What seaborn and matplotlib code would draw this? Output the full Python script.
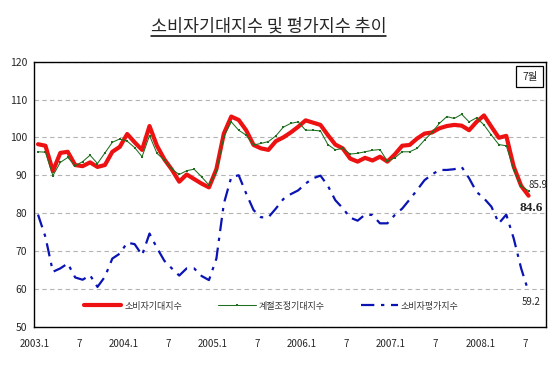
import matplotlib
matplotlib.use("Agg")
import matplotlib.pyplot as plt
import seaborn as sns
import pandas as pd
from matplotlib.lines import Line2D

# monthly categories 2003.1 ~ 2008.7
months = [f"{y}.{m}" for y in range(2003, 2009) for m in range(1, 13)][:67]

# 소비자기대지수
expect = [98.2, 97.8, 91.1, 95.9, 96.2, 92.7, 92.4, 93.4, 92.2, 92.7, 96.2, 97.5,
          100.9, 98.7, 96.7, 103.0, 97.8, 94.2, 91.5, 88.3, 90.2, 89.0, 87.8, 86.8,
          91.6, 101.0, 105.5, 104.6, 101.9, 98.0, 97.1, 96.7, 99.0, 100.0, 101.3, 102.8,
          104.5, 103.9, 103.3, 100.6, 98.1, 97.1, 94.4, 93.6, 94.6, 93.9, 94.9, 93.6,
          95.5, 97.8, 98.0, 99.7, 101.0, 101.3, 102.4, 103.0, 103.3, 103.1, 101.9, 104.1,
          105.8, 102.8, 99.9, 100.4, 92.3, 87.2, 84.6]

# 계절조정기대지수
seasonal = [96.2, 96.1, 89.9, 93.4, 94.7, 92.5, 93.6, 95.3, 93.1, 95.9, 98.7, 99.6,
            99.0, 97.3, 94.9, 100.5, 95.8, 94.0, 91.6, 90.2, 91.2, 91.6, 89.6, 87.4,
            90.9, 100.2, 104.1, 101.9, 100.6, 98.0, 98.4, 98.9, 100.4, 102.7, 103.7, 104.1,
            101.9, 101.9, 101.7, 98.1, 96.7, 97.1, 95.6, 95.8, 96.2, 96.6, 96.8, 93.7,
            94.6, 96.2, 96.2, 97.1, 99.3, 101.3, 103.7, 105.5, 105.0, 106.1, 104.1, 105.2,
            103.3, 100.6, 98.1, 97.8, 91.4, 87.1, 85.9]

# 소비자평가지수
evaluation = [79.6, 73.7, 64.5, 65.4, 66.7, 63.0, 62.4, 63.6, 60.5, 63.2, 68.0, 69.3,
              72.2, 71.8, 68.9, 74.6, 70.8, 67.4, 65.4, 63.5, 65.4, 65.4, 63.4, 62.3,
              68.0, 82.5, 89.5, 90.0, 85.2, 80.8, 78.9, 78.9, 81.2, 83.7, 85.0, 86.0,
              87.8, 89.2, 89.9, 87.2, 83.4, 81.3, 78.8, 78.0, 79.6, 79.5, 77.3, 77.3,
              79.5, 81.2, 83.6, 86.1, 88.7, 90.2, 91.4, 91.4, 91.6, 92.2, 89.2, 85.6,
              83.9, 81.7, 77.3, 79.6, 73.3, 65.4, 59.2]

tick_labels = ["2003.1", "7", "2004.1", "7", "2005.1", "7",
               "2006.1", "7", "2007.1", "7", "2008.1", "7"]

df = pd.DataFrame({"month": months, "expect": expect,
                   "seasonal": seasonal, "evaluation": evaluation})
df["idx"] = range(len(df))

sns.set_style("white")
plt.rcParams['font.family'] = ['Noto Sans CJK KR', 'DejaVu Sans']

fig = plt.figure(figsize=(5.55, 3.65), dpi=100)
ax = fig.add_axes([0.0618, 0.105, 0.9214, 0.726])

sns.lineplot(data=df, x="idx", y="expect", color="#ee1111", lw=3.0,
             label="소비자기대지수", ax=ax, zorder=3)
sns.lineplot(data=df, x="idx", y="seasonal", color="#1f6e1f", lw=0.75,
             marker="s", markersize=1.5, markeredgewidth=0,
             label="계절조정기대지수", ax=ax, zorder=4)
sns.lineplot(data=df, x="idx", y="evaluation", color="#0a14b4", lw=1.6,
             linestyle=(0, (6, 3, 1.5, 3)), label="소비자평가지수", ax=ax, zorder=3)

ax.set_xlim(-0.45, 68.3)
ax.set_ylim(50, 120)
ax.set_yticks(range(50, 121, 10))
ax.set_xticks([-0.5 + 6 * k for k in range(len(tick_labels))])
ax.set_xticklabels(tick_labels)
ax.set_xlabel("")
ax.set_ylabel("")
ax.tick_params(axis='x', direction='in', length=3, width=1, pad=9, labelsize=7)
ax.tick_params(axis='y', length=0, pad=5, labelsize=7.5)
ax.grid(axis='y', color='#b4b4b4', lw=0.8, ls=(0, (4, 3)))
ax.grid(axis='x', visible=False)
for s in ax.spines.values():
    s.set_color('black')
    s.set_linewidth(1.0)

ax.legend(loc='center', bbox_to_anchor=(0.464, 0.078), ncol=3, frameon=False,
          fontsize=6.5, handlelength=4.1, columnspacing=4.0, handletextpad=0.35,
          labelcolor='#333333')

# value labels at the last month
ax.text(66.0, 87.4, "85.9", ha='left', va='center', fontsize=7)
ax.text(66.4, 81.4, "84.6", ha='center', va='center', fontsize=9.5,
        fontweight='bold', family='Liberation Serif')
ax.text(66.3, 56.6, "59.2", ha='center', va='center', fontsize=7)

ax.text(0.969, 0.944, "7월", transform=ax.transAxes, ha='center', va='center',
        fontsize=7.5, bbox=dict(boxstyle='square,pad=0.55', fc='white', ec='black', lw=0.9))

# underlined title
t = fig.text(0.4838, 0.926, "소비자기대지수 및 평가지수 추이", ha='center', va='center',
             fontsize=12.5)
fig.canvas.draw()
bb = t.get_window_extent()
fw = fig.bbox.width
fig.add_artist(Line2D([bb.x0 / fw, bb.x1 / fw], [0.901, 0.901],
                      transform=fig.transFigure, color='black', lw=1.1))

fig.savefig("out.png", dpi=100)
